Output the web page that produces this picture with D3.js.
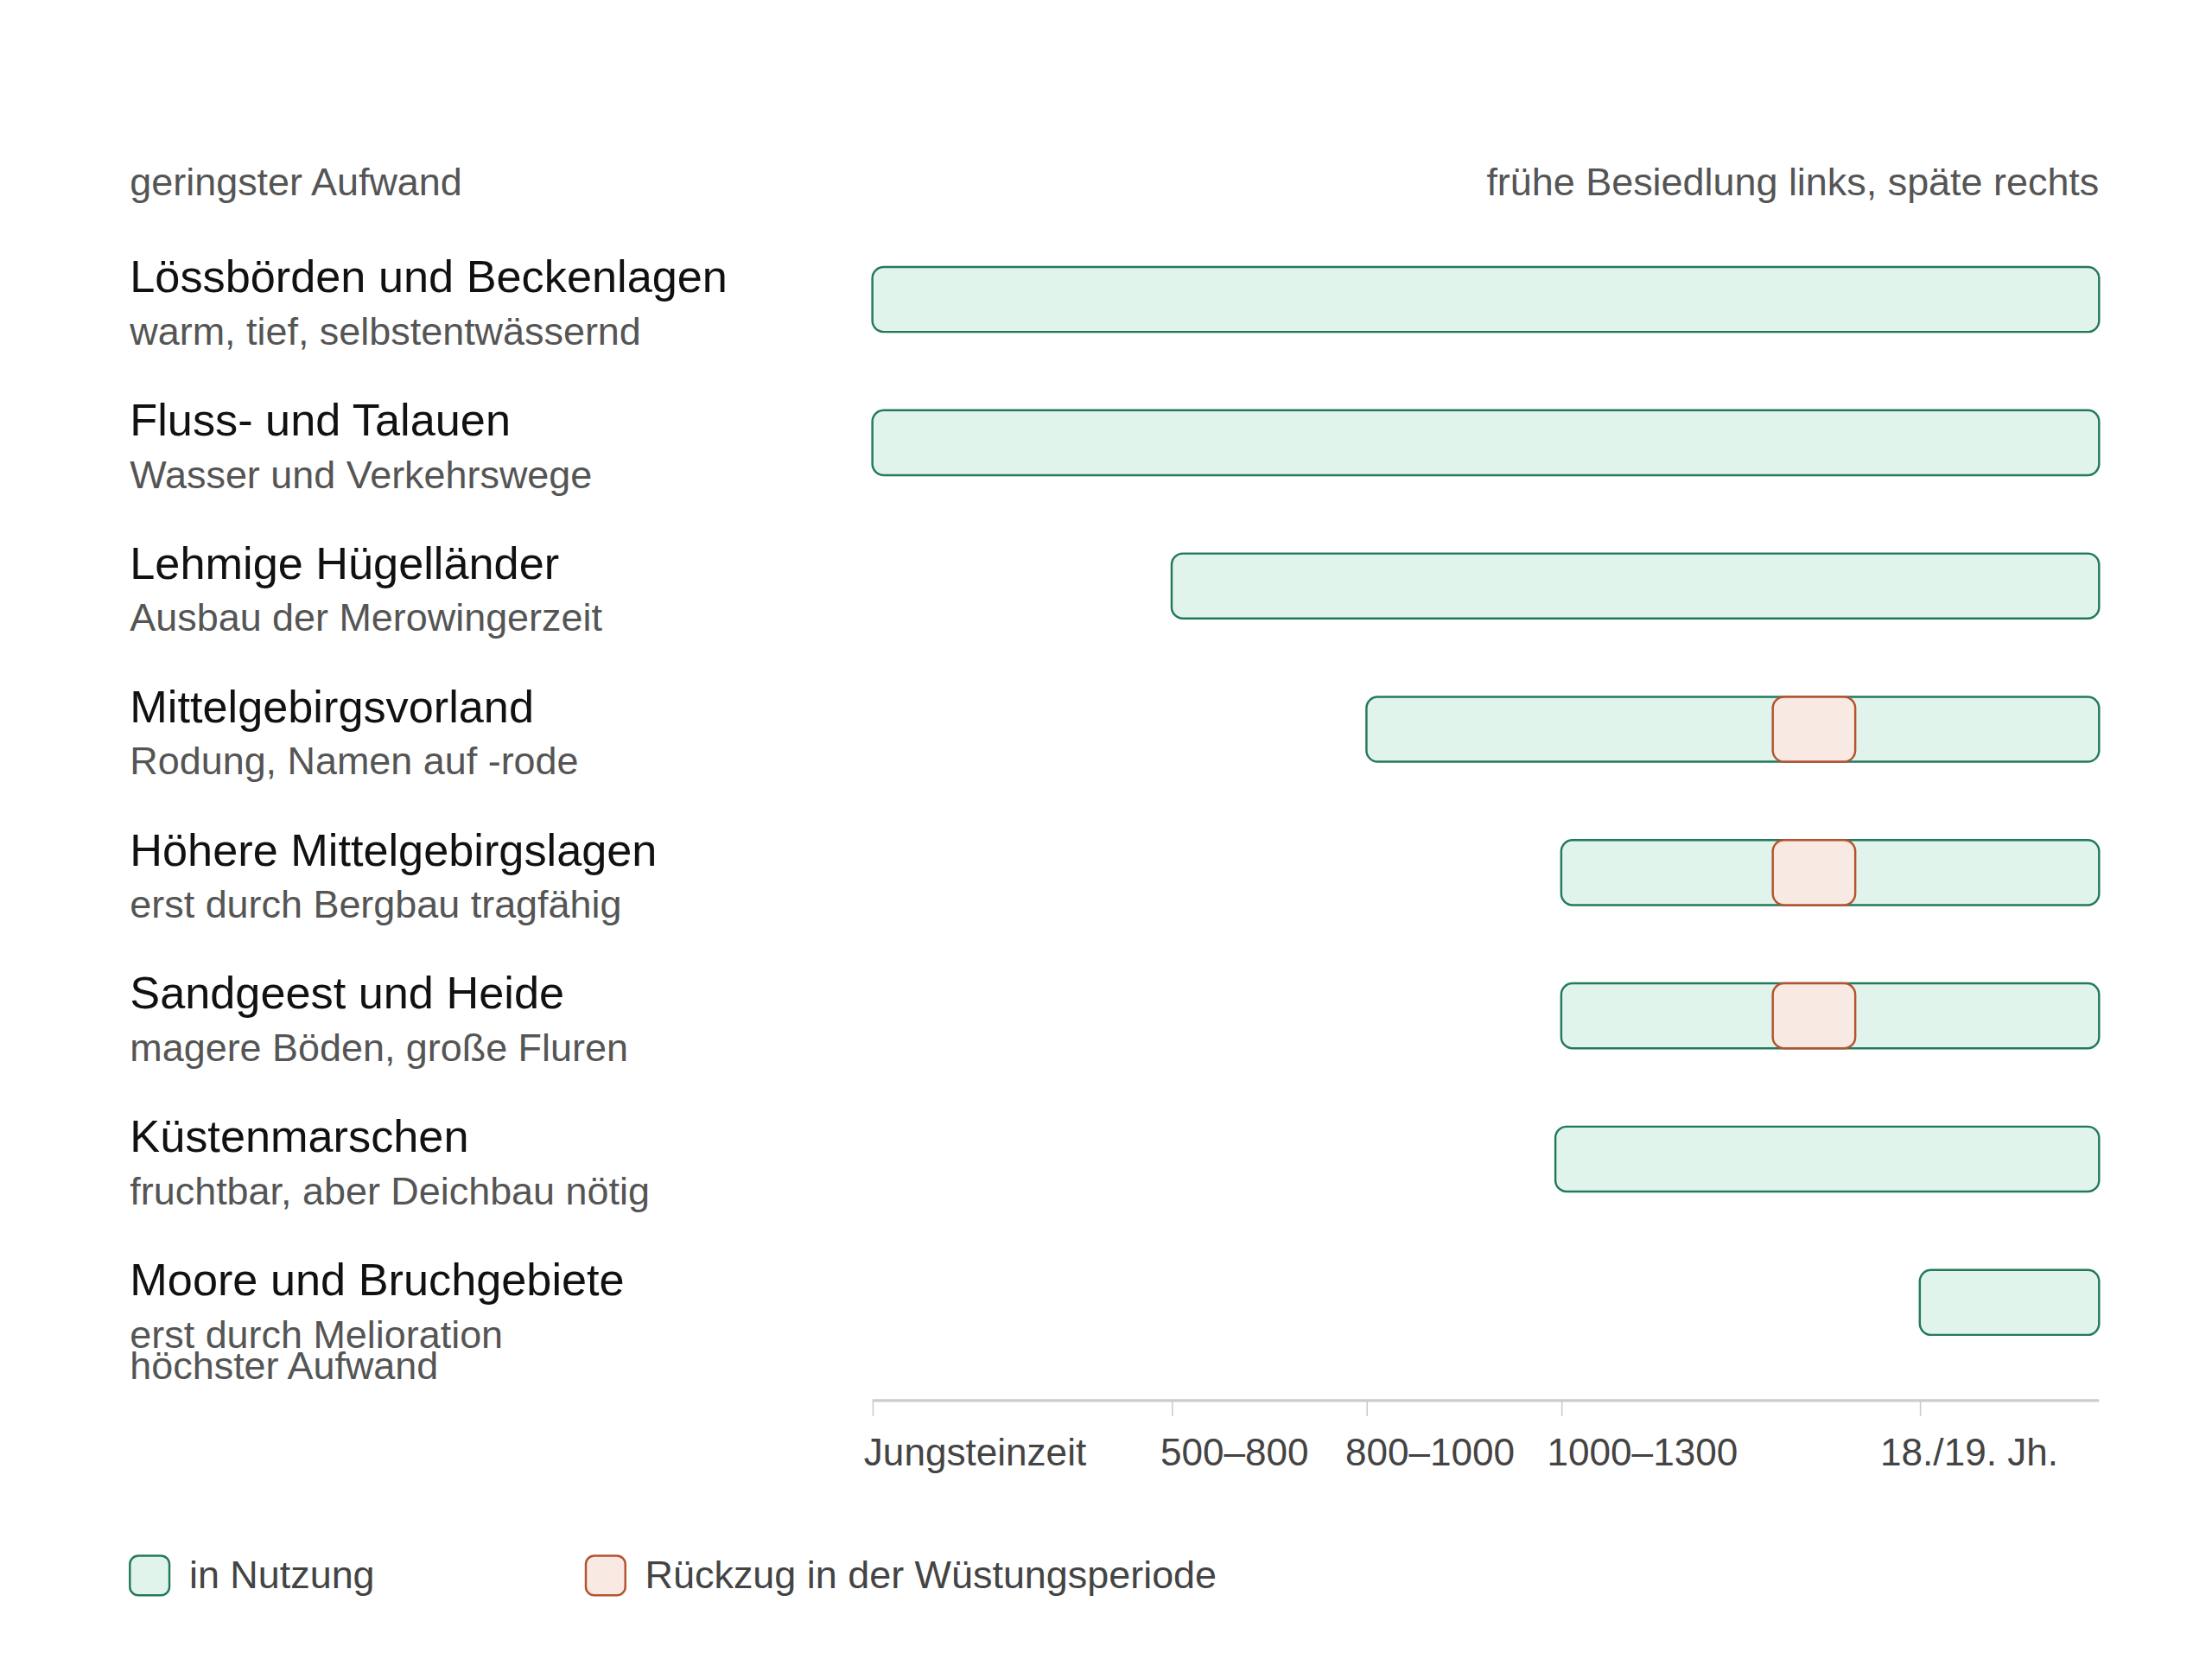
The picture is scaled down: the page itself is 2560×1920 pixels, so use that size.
<!DOCTYPE html>
<html><head><meta charset="utf-8">
<script src="https://cdn.jsdelivr.net/npm/d3@7"></script>
<style>body{margin:0;background:#fff}</style>
</head><body>
<script>
// region rows, top = least effort
var regions = ["Lössbörden und Beckenlagen","Fluss- und Talauen","Lehmige Hügelländer","Mittelgebirgsvorland","Höhere Mittelgebirgslagen","Sandgeest und Heide","Küstenmarschen","Moore und Bruchgebiete"];
var notes = ["warm, tief, selbstentwässernd","Wasser und Verkehrswege","Ausbau der Merowingerzeit","Rodung, Namen auf -rode","erst durch Bergbau tragfähig","magere Böden, große Fluren","fruchtbar, aber Deichbau nötig","erst durch Melioration"];
// start of use, in period index (0 = Jungsteinzeit ... 5 = today)
var useStart = [0, 0, 1, 2, 3, 3, 2.97, 4];
var useEnd = [5, 5, 5, 5, 5, 5, 5, 5];
// retreat in the Wüstung period (null = none)
var retreat = [null, null, null, [3.59,3.82], [3.59,3.82], [3.59,3.82], null, null];
var periods = ["Jungsteinzeit","500–800","800–1000","1000–1300","18./19. Jh."];
var periodAt = [0, 1, 2, 3, 4];
var labelShift = [-6, -8, -15, -10, -28];

var W = 1567, H = 1175;
var svg = d3.select("body").append("svg")
    .attr("width", 2560).attr("height", 1920)
    .attr("viewBox", "0 0 " + W + " " + H)
    .style("font-family", "Liberation Sans, Arial, sans-serif");

var x = d3.scaleLinear().domain([0,1,2,3,4,5]).range([618,830,968,1106,1360,1487]);
var y = d3.scaleLinear().domain([0, 1]).range([189, 290.5]);
var barH = 46;

svg.append("text").attr("x", 92).attr("y", 138).attr("font-size", 27.5).attr("fill", "#555").text("geringster Aufwand");
svg.append("text").attr("x", 1487).attr("y", 138).attr("text-anchor", "end").attr("font-size", 27.5).attr("fill", "#555").text("frühe Besiedlung links, späte rechts");

var rows = svg.selectAll("g.row").data(regions).enter().append("g").attr("class", "row");
rows.append("text").attr("x", 92).attr("y", function(d,i){ return y(i) + 18; })
    .attr("font-size", 32).attr("fill", "#111").text(function(d){ return d; });
rows.append("text").attr("x", 92).attr("y", function(d,i){ return y(i) + 55; })
    .attr("font-size", 27.5).attr("fill", "#555").text(function(d,i){ return notes[i]; });
rows.append("rect")
    .attr("x", function(d,i){ return x(useStart[i]); })
    .attr("width", function(d,i){ return x(useEnd[i]) - x(useStart[i]); })
    .attr("y", function(d,i){ return y(i); }).attr("height", barH)
    .attr("rx", 8).attr("fill", "#e1f4ec").attr("stroke", "#237a5a").attr("stroke-width", 1.5);
rows.filter(function(d,i){ return retreat[i]; }).append("rect")
    .attr("x", function(d){ return x(retreat[regions.indexOf(d)][0]); })
    .attr("width", function(d){ var r = retreat[regions.indexOf(d)]; return x(r[1]) - x(r[0]); })
    .attr("y", function(d){ return y(regions.indexOf(d)); }).attr("height", barH)
    .attr("rx", 8).attr("fill", "#f9e9e3").attr("stroke", "#b4532f").attr("stroke-width", 1.5);

svg.append("text").attr("x", 92).attr("y", 977).attr("font-size", 27.5).attr("fill", "#555").text("höchster Aufwand");

// axis
var axis = svg.append("g").attr("transform", "translate(0,992)")
    .call(d3.axisBottom(x).tickValues(periodAt).tickSize(11).tickFormat(""));
axis.select(".domain").attr("stroke", "#ccc").attr("stroke-width", 2).attr("d", "M618,0H1487");
axis.selectAll(".tick line").attr("stroke", "#ccc");
svg.selectAll("text.per").data(periods).enter().append("text").attr("class", "per")
    .attr("x", function(d,i){ return x(periodAt[i]) + labelShift[i]; }).attr("y", 1038)
    .attr("font-size", 27).attr("fill", "#444").text(function(d){ return d; });

// legend
var legend = [["in Nutzung","#e1f4ec","#237a5a",92],["Rückzug in der Wüstungsperiode","#f9e9e3","#b4532f",415]];
var lg = svg.selectAll("g.lg").data(legend).enter().append("g").attr("class", "lg");
lg.append("rect").attr("x", function(d){ return d[3]; }).attr("y", 1102).attr("width", 28).attr("height", 28)
    .attr("rx", 6).attr("fill", function(d){ return d[1]; }).attr("stroke", function(d){ return d[2]; }).attr("stroke-width", 1.5);
lg.append("text").attr("x", function(d){ return d[3] + 42; }).attr("y", 1125).attr("font-size", 27.5).attr("fill", "#444").text(function(d){ return d[0]; });
</script>
</body></html>
